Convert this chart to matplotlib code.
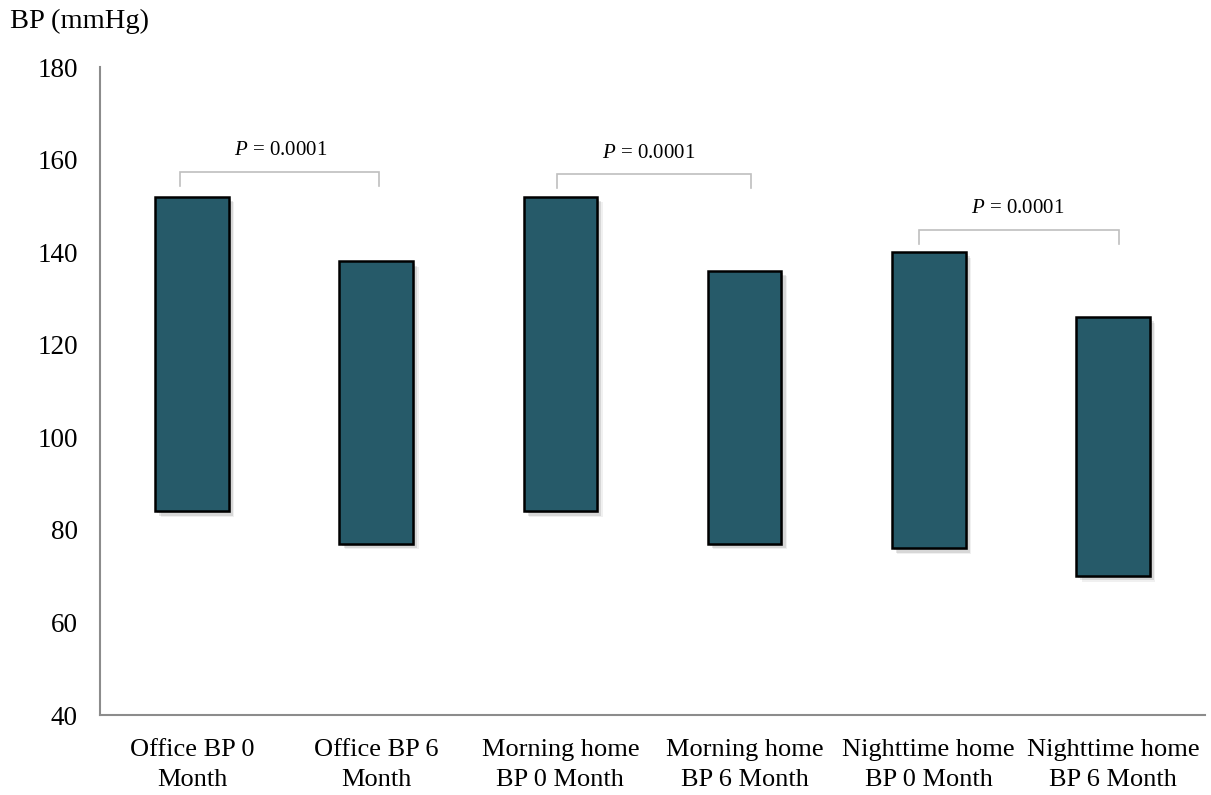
import matplotlib
matplotlib.use("Agg")
import matplotlib.pyplot as plt
import matplotlib.patheffects as pe
import numpy as np

plt.rcParams['font.family'] = ['Liberation Serif', 'DejaVu Serif']
plt.rcParams['mathtext.fontset'] = 'custom'
plt.rcParams['mathtext.rm'] = 'Liberation Serif'
plt.rcParams['mathtext.it'] = 'Liberation Serif:italic'

categories = ["Office BP 0\nMonth", "Office BP 6\nMonth",
              "Morning home\nBP 0 Month", "Morning home\nBP 6 Month",
              "Nighttime home\nBP 0 Month", "Nighttime home\nBP 6 Month"]
bp_high = [152, 138, 152, 136, 140, 126]
bp_low = [84, 77, 84, 77, 76, 70]

# pairwise comparisons: (left bar, right bar, p-value text)
comparisons = [(0, 1, "0.0001"), (2, 3, "0.0001"), (4, 5, "0.0001")]
bracket_top = [157.3, 156.9, 144.8]
bracket_drop = 3.0
bracket_offsets = [(-0.065, 0.016), (-0.016, 0.033), (-0.054, 0.033)]
label_y = [161.9, 161.4, 149.5]

bar_color = "#265A69"
axis_color = "#8C8C8C"

fig = plt.figure(figsize=(12.11, 7.95), dpi=100)
ax = fig.add_axes([0.0826, 0.1006, 0.9124, 0.8151])

x = np.arange(len(categories))
heights = np.array(bp_high) - np.array(bp_low)
bars = ax.bar(x, heights, bottom=bp_low, width=0.40, color=bar_color,
              edgecolor="black", linewidth=1.8, zorder=3)
for b in bars:
    b.set_path_effects([
        pe.SimplePatchShadow(offset=(4, -4), shadow_rgbFace="#000000", alpha=0.06),
        pe.SimplePatchShadow(offset=(3, -3), shadow_rgbFace="#000000", alpha=0.10),
        pe.SimplePatchShadow(offset=(1.5, -1.5), shadow_rgbFace="#000000", alpha=0.15),
        pe.Normal()])

for (i, j, p), top, (ol, orr), ly in zip(comparisons, bracket_top, bracket_offsets, label_y):
    xl, xr = x[i] + ol, x[j] + orr
    ax.plot([xl, xl, xr, xr], [top - bracket_drop, top, top, top - bracket_drop],
            color="#BFBFBF", linewidth=1.2, zorder=2, solid_joinstyle="miter")
    ax.text((x[i] + x[j]) / 2 - 0.02, ly, r"$P$ = " + p, ha="center", va="center",
            fontsize=15)

ax.set_xlim(-0.5, len(categories) - 0.5)
ax.set_ylim(40, 180)
ax.set_yticks(np.arange(40, 181, 20))
ax.set_xticks(x)
ax.set_xticklabels(categories, fontsize=19, linespacing=1.5)
ax.tick_params(axis="y", length=0, pad=16, labelsize=19.5)
ax.tick_params(axis="x", length=0, pad=17)

for s in ["top", "right"]:
    ax.spines[s].set_visible(False)
for s in ["left", "bottom"]:
    ax.spines[s].set_color(axis_color)
    ax.spines[s].set_linewidth(1.5)

fig.text(10 / 1211, 1 - 21 / 795, "BP (mmHg)", ha="left", va="center", fontsize=20.5)

fig.savefig("out.png", dpi=100)
